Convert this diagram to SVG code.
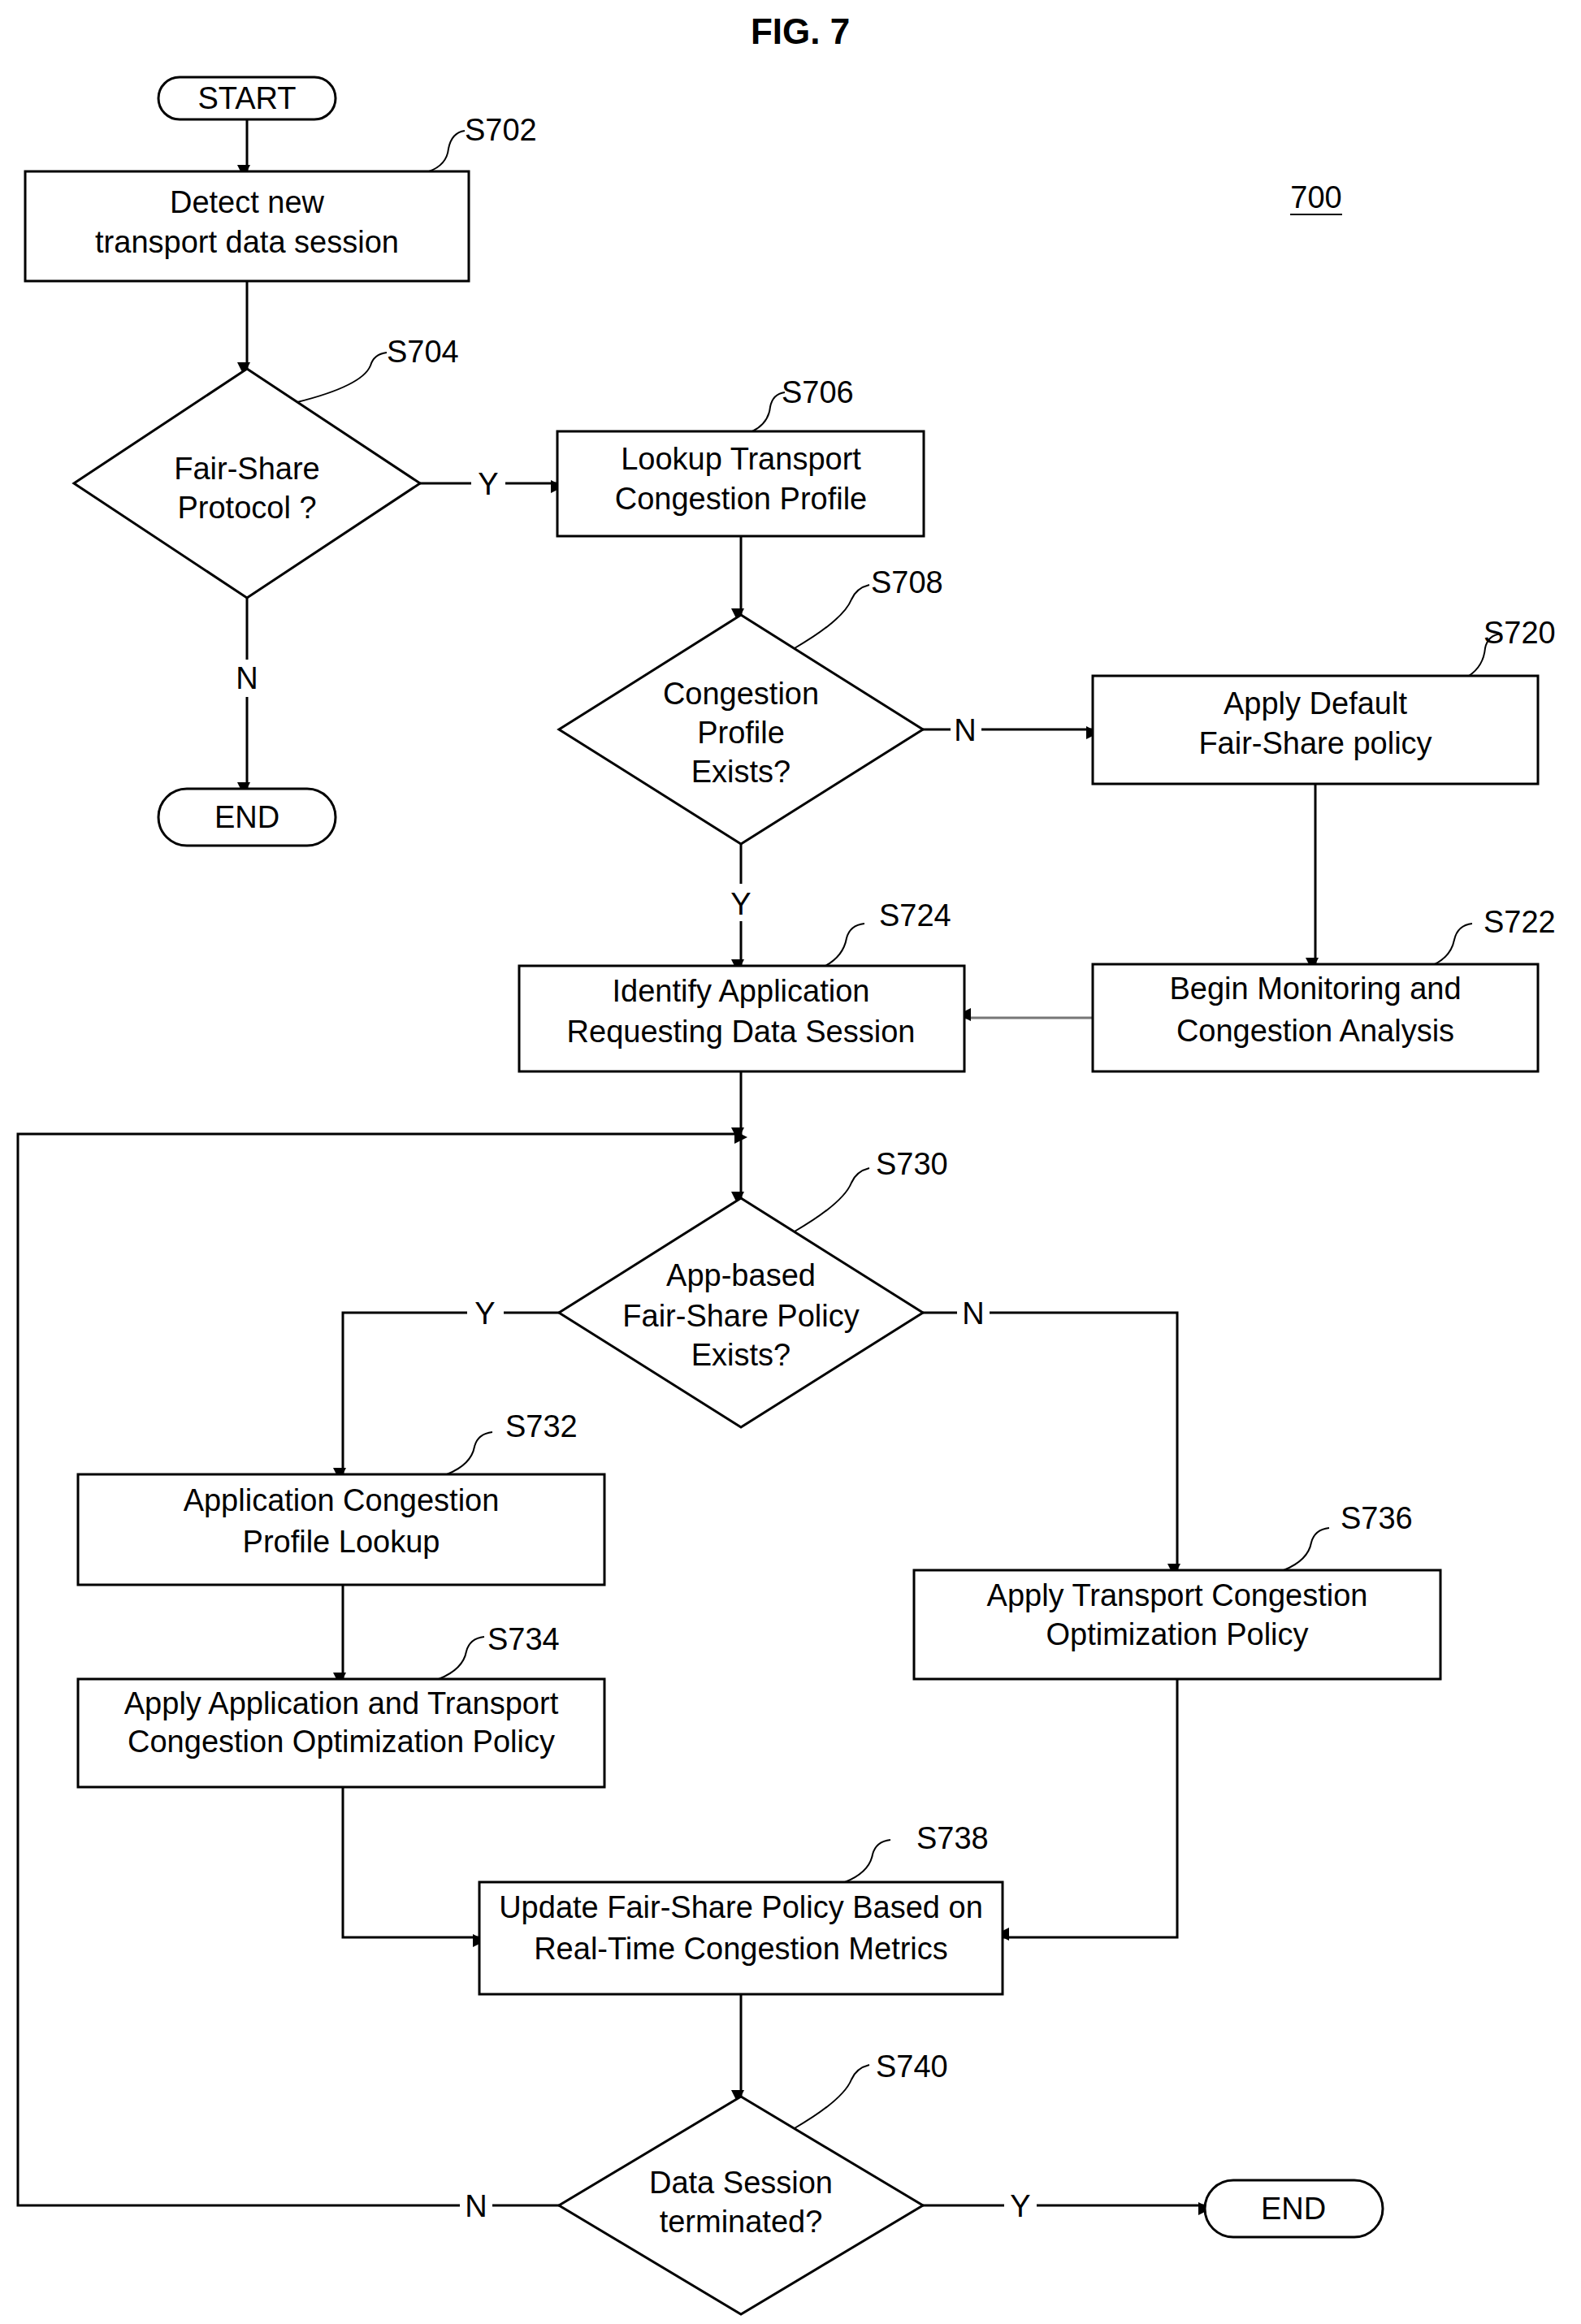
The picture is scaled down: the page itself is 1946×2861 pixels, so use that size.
<svg xmlns="http://www.w3.org/2000/svg" width="1946" height="2861" viewBox="0 0 1946 2861">
<defs>
<style>
.b{fill:#fff;stroke:#000;stroke-width:3}
.c{fill:none;stroke:#000;stroke-width:3}
.l{fill:none;stroke:#000;stroke-width:2}
text{font-family:"Liberation Sans",Arial,sans-serif;font-size:38px;fill:#000;text-anchor:middle}
.r{text-anchor:start}
</style>
<marker id="a" viewBox="0 0 10 10" refX="10" refY="5" markerWidth="8" markerHeight="8" orient="auto" markerUnits="userSpaceOnUse" style="overflow:visible"><path d="M0,0 L10,5 L0,10 Z" transform="scale(2)" fill="#000"/></marker>
</defs>
<rect width="1946" height="2861" fill="#fff"/>
<text x="985" y="54" style="font-weight:bold;font-size:44px">FIG. 7</text>
<text x="1620" y="256">700</text>
<line x1="1588" y1="264" x2="1652" y2="264" class="l"/>
<g id="connectors">
<path class="c" d="M304,147 V211" marker-end="url(#a)"/>
<path class="c" d="M304,346 V454" marker-end="url(#a)"/>
<path class="c" d="M517,595 H580 M622,595 H686" marker-end="url(#a)"/>
<path class="c" d="M304,736 V812 M304,858 V971" marker-end="url(#a)"/>
<path class="c" d="M912,660 V757" marker-end="url(#a)"/>
<path class="c" d="M1136,898 H1170 M1208,898 H1345" marker-end="url(#a)"/>
<path class="c" d="M912,1039 V1088 M912,1134 V1189" marker-end="url(#a)"/>
<path class="c" d="M1619,965 V1187" marker-end="url(#a)"/>
<path class="c" d="M1345,1253 H1187" marker-end="url(#a)" style="stroke:#777"/>
<path class="c" d="M912,1319 V1396" marker-end="url(#a)"/>
<path class="c" d="M912,1396 V1475" marker-end="url(#a)"/>
<path class="c" d="M688,1616 H620 M575,1616 H422 V1815" marker-end="url(#a)"/>
<path class="c" d="M1136,1616 H1178 M1218,1616 H1449 V1933" marker-end="url(#a)"/>
<path class="c" d="M422,1951 V2067" marker-end="url(#a)"/>
<path class="c" d="M422,2200 V2385 H590" marker-end="url(#a)"/>
<path class="c" d="M1449,2067 V2385 H1234" marker-end="url(#a)"/>
<path class="c" d="M912,2455 V2581" marker-end="url(#a)"/>
<path class="c" d="M688,2715 H606 M566,2715 H22 V1396 H912" marker-end="url(#a)"/>
<path class="c" d="M1136,2715 H1236 M1276,2715 H1483" marker-end="url(#a)"/>
</g>
<g id="start"><rect class="b" x="195" y="95" width="218" height="52" rx="26"/><text x="304" y="134">START</text></g>
<g id="s702"><rect class="b" x="31" y="211" width="546" height="135"/><text x="304" y="262">Detect new</text><text x="304" y="311">transport data session</text>
<path class="l" d="M528,211 q22,-8 24,-28 q4,-20 20,-22"/><text class="r" x="572" y="173">S702</text></g>
<g id="s704"><polygon class="b" points="304,454 517,595 304,736 91,595"/><text x="304" y="590">Fair-Share</text><text x="304" y="638">Protocol ?</text>
<path class="l" d="M366,495 q80,-20 90,-45 q4,-14 20,-16"/><text class="r" x="476" y="446">S704</text></g>
<text x="601" y="609">Y</text>
<text x="304" y="848">N</text>
<g id="end1"><rect class="b" x="195" y="971" width="218" height="70" rx="35"/><text x="304" y="1019">END</text></g>
<g id="s706"><rect class="b" x="686" y="531" width="451" height="129"/><text x="912" y="578">Lookup Transport</text><text x="912" y="627">Congestion Profile</text>
<path class="l" d="M926,531 q20,-10 22,-30 q3,-16 18,-18"/><text class="r" x="962" y="496">S706</text></g>
<g id="s708"><polygon class="b" points="912,757 1136,898 912,1039 688,898"/><text x="912" y="867">Congestion</text><text x="912" y="915">Profile</text><text x="912" y="963">Exists?</text>
<path class="l" d="M978,798 q60,-35 70,-60 q6,-14 22,-18"/><text class="r" x="1072" y="730">S708</text></g>
<text x="1188" y="912">N</text>
<text x="912" y="1126">Y</text>
<g id="s720"><rect class="b" x="1345" y="832" width="548" height="133"/><text x="1619" y="879">Apply Default</text><text x="1619" y="928">Fair-Share policy</text>
<path class="l" d="M1808,832 q18,-12 20,-34 q3,-16 20,-18"/><text class="r" x="1826" y="792">S720</text></g>
<g id="s722"><rect class="b" x="1345" y="1187" width="548" height="132"/><text x="1619" y="1230">Begin Monitoring and</text><text x="1619" y="1282">Congestion Analysis</text>
<path class="l" d="M1766,1187 q20,-10 24,-30 q4,-18 22,-20"/><text class="r" x="1826" y="1148">S722</text></g>
<g id="s724"><rect class="b" x="639" y="1189" width="548" height="130"/><text x="912" y="1233">Identify Application</text><text x="912" y="1283">Requesting Data Session</text>
<path class="l" d="M1016,1189 q22,-12 26,-34 q4,-16 22,-18"/><text class="r" x="1082" y="1140">S724</text></g>
<g id="s730"><polygon class="b" points="912,1475 1136,1616 912,1757 688,1616"/><text x="912" y="1583">App-based</text><text x="912" y="1633">Fair-Share Policy</text><text x="912" y="1681">Exists?</text>
<path class="l" d="M978,1516 q60,-35 70,-60 q6,-14 22,-18"/><text class="r" x="1078" y="1446">S730</text></g>
<text x="597" y="1630">Y</text>
<text x="1198" y="1630">N</text>
<g id="s732"><rect class="b" x="96" y="1815" width="648" height="136"/><text x="420" y="1860">Application Congestion</text><text x="420" y="1911">Profile Lookup</text>
<path class="l" d="M550,1815 q30,-12 34,-34 q4,-16 22,-18"/><text class="r" x="622" y="1769">S732</text></g>
<g id="s734"><rect class="b" x="96" y="2067" width="648" height="133"/><text x="420" y="2110">Apply Application and Transport</text><text x="420" y="2157">Congestion Optimization Policy</text>
<path class="l" d="M540,2067 q30,-12 34,-34 q4,-16 22,-18"/><text class="r" x="600" y="2031">S734</text></g>
<g id="s736"><rect class="b" x="1125" y="1933" width="648" height="134"/><text x="1449" y="1977">Apply Transport Congestion</text><text x="1449" y="2025">Optimization Policy</text>
<path class="l" d="M1580,1933 q30,-12 34,-34 q4,-16 22,-18"/><text class="r" x="1650" y="1882">S736</text></g>
<g id="s738"><rect class="b" x="590" y="2317" width="644" height="138"/><text x="912" y="2361">Update Fair-Share Policy Based on</text><text x="912" y="2412">Real-Time Congestion Metrics</text>
<path class="l" d="M1040,2317 q30,-12 34,-34 q4,-16 22,-18"/><text class="r" x="1128" y="2276">S738</text></g>
<g id="s740"><polygon class="b" points="912,2581 1136,2715 912,2849 688,2715"/><text x="912" y="2700">Data Session</text><text x="912" y="2748">terminated?</text>
<path class="l" d="M978,2620 q60,-35 70,-60 q6,-14 22,-18"/><text class="r" x="1078" y="2557">S740</text></g>
<text x="586" y="2729">N</text>
<text x="1256" y="2729">Y</text>
<g id="end2"><rect class="b" x="1483" y="2684" width="219" height="70" rx="35"/><text x="1592" y="2732">END</text></g>
</svg>
